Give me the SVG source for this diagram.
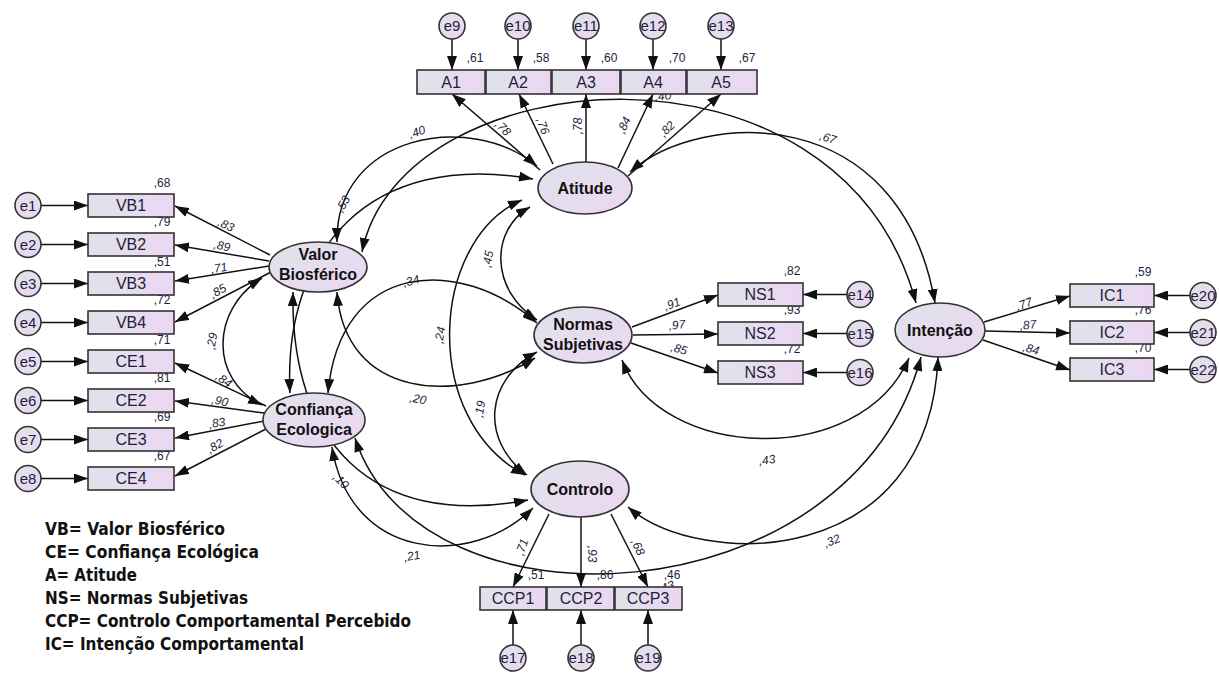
<svg xmlns="http://www.w3.org/2000/svg" width="1219" height="674" viewBox="0 0 1219 674">
<defs>
<linearGradient id="gr" x1="0" y1="0" x2="1" y2="0"><stop offset="0" stop-color="#dfe3ea"/><stop offset="1" stop-color="#ecd6f2"/></linearGradient>
<linearGradient id="ge" x1="0" y1="0" x2="1" y2="1"><stop offset="0" stop-color="#dfe3ea"/><stop offset="1" stop-color="#ecd6f2"/></linearGradient>
<marker id="ah" viewBox="0 0 14 10" refX="14" refY="5" markerWidth="14" markerHeight="10" markerUnits="userSpaceOnUse" orient="auto-start-reverse"><path d="M0,0 L14,5 L0,10 z" fill="#111"/></marker>
</defs>
<style>
.box{fill:url(#gr);stroke:#333;stroke-width:1.6}
.lat{fill:url(#ge);stroke:#333;stroke-width:1.6}
.err{fill:url(#ge);stroke:#333;stroke-width:1.6}
.ln{stroke:#111;stroke-width:1.5;fill:none;marker-end:url(#ah)}
.cov{stroke:#111;stroke-width:1.5;fill:none;marker-start:url(#ah);marker-end:url(#ah)}
text{font-family:"Liberation Sans",Arial,sans-serif}
.ti{font-size:16px;fill:#1e1e3c;text-anchor:middle}
.tl{font-size:16px;font-weight:bold;fill:#111;text-anchor:middle}
.te{font-size:15px;fill:#1e1e3c;text-anchor:middle}
.n{font-size:12px;fill:#1e1e3c;text-anchor:middle;dominant-baseline:central}
.i{font-style:italic}
.lg{font-family:"DejaVu Sans Condensed","DejaVu Sans",sans-serif;font-weight:bold;font-size:17px;fill:#111}
</style>
<rect width="1219" height="674" fill="#fff"/>

<g id="connectors">
<!-- error arrows -->
<line class="ln" x1="41" y1="205.5" x2="88" y2="205.5"/>
<line class="ln" x1="41" y1="244.5" x2="88" y2="244.5"/>
<line class="ln" x1="41" y1="283.5" x2="88" y2="283.5"/>
<line class="ln" x1="41" y1="322.5" x2="88" y2="322.5"/>
<line class="ln" x1="41" y1="361.5" x2="88" y2="361.5"/>
<line class="ln" x1="41" y1="400.5" x2="88" y2="400.5"/>
<line class="ln" x1="41" y1="439.5" x2="88" y2="439.5"/>
<line class="ln" x1="41" y1="478.5" x2="88" y2="478.5"/>
<line class="ln" x1="452" y1="39" x2="452" y2="70"/>
<line class="ln" x1="518" y1="39" x2="518" y2="70"/>
<line class="ln" x1="586" y1="39" x2="586" y2="70"/>
<line class="ln" x1="653" y1="39" x2="653" y2="70"/>
<line class="ln" x1="721" y1="39" x2="721" y2="70"/>
<line class="ln" x1="847" y1="294.5" x2="803" y2="294.5"/>
<line class="ln" x1="847" y1="333.5" x2="803" y2="333.5"/>
<line class="ln" x1="847" y1="372.5" x2="803" y2="372.5"/>
<line class="ln" x1="1190" y1="295.5" x2="1154" y2="295.5"/>
<line class="ln" x1="1190" y1="332.5" x2="1154" y2="332.5"/>
<line class="ln" x1="1190" y1="369.5" x2="1154" y2="369.5"/>
<line class="ln" x1="513" y1="645" x2="513" y2="610"/>
<line class="ln" x1="581" y1="645" x2="581" y2="610"/>
<line class="ln" x1="648" y1="645" x2="648" y2="610"/>
<!-- loadings -->
<line class="ln" x1="270" y1="255" x2="175" y2="206"/>
<line class="ln" x1="269" y1="261" x2="175" y2="245"/>
<line class="ln" x1="269" y1="266" x2="175" y2="281"/>
<line class="ln" x1="271" y1="272" x2="175" y2="322"/>
<line class="ln" x1="266" y1="406" x2="175" y2="363"/>
<line class="ln" x1="264" y1="413" x2="175" y2="401"/>
<line class="ln" x1="264" y1="421" x2="175" y2="438"/>
<line class="ln" x1="266" y1="429" x2="175" y2="476"/>
<line class="ln" x1="540" y1="170" x2="452" y2="94"/>
<line class="ln" x1="553" y1="164" x2="519" y2="94"/>
<line class="ln" x1="586" y1="162" x2="586" y2="94"/>
<line class="ln" x1="618" y1="168" x2="653" y2="94"/>
<line class="ln" x1="628" y1="176" x2="721" y2="94"/>
<line class="ln" x1="632" y1="327" x2="718" y2="295"/>
<line class="ln" x1="633" y1="335" x2="718" y2="334"/>
<line class="ln" x1="631" y1="343" x2="718" y2="373"/>
<line class="ln" x1="984" y1="322" x2="1070" y2="296"/>
<line class="ln" x1="985" y1="331" x2="1070" y2="333"/>
<line class="ln" x1="983" y1="340" x2="1070" y2="370"/>
<line class="ln" x1="549" y1="514" x2="513" y2="587"/>
<line class="ln" x1="581" y1="517" x2="581" y2="587"/>
<line class="ln" x1="611" y1="514" x2="648" y2="587"/>
<!-- covariances -->
<path class="cov" d="M262,278 C210,310 210,380 262,405"/>
<path class="cov" d="M337,242 C335,135 470,110 537,166"/>
<path class="cov" d="M290,393 C283,250 370,150 533,179"/>
<path class="cov" d="M337,292 C345,400 460,405 535,358"/>
<path class="cov" d="M293,292 C290,440 370,530 528,500"/>
<path class="cov" d="M362,252 C400,60 840,20 916,303"/>
<path class="cov" d="M328,393 C340,260 460,255 537,323"/>
<path class="cov" d="M332,447 C350,560 470,570 533,508"/>
<path class="cov" d="M355,438 C420,640 850,620 921,357"/>
<path class="cov" d="M530,207 C490,230 490,290 537,320"/>
<path class="cov" d="M522,200 C430,240 420,420 525,475"/>
<path class="cov" d="M630,172 C700,110 900,100 935,303"/>
<path class="cov" d="M537,352 C485,380 480,440 527,475"/>
<path class="cov" d="M622,360 C660,460 860,470 909,358"/>
<path class="cov" d="M628,507 C700,570 930,570 938,357"/>
</g>

<g id="labels">
<text class="n i" transform="translate(226,225) rotate(25)">,83</text>
<text class="n i" transform="translate(222,246) rotate(12)">,89</text>
<text class="n i" transform="translate(219,268) rotate(-10)">,71</text>
<text class="n i" transform="translate(218,291) rotate(-30)">,85</text>
<text class="n i" transform="translate(224,380) rotate(35)">,84</text>
<text class="n i" transform="translate(220,401) rotate(12)">,90</text>
<text class="n i" transform="translate(217,423) rotate(-10)">,83</text>
<text class="n i" transform="translate(215,446) rotate(-30)">,82</text>
<text class="n i" transform="translate(503,128) rotate(45)">,78</text>
<text class="n i" transform="translate(543,126) rotate(70)">,76</text>
<text class="n i" transform="translate(578,126) rotate(-90)">,78</text>
<text class="n i" transform="translate(624,125) rotate(-65)">,84</text>
<text class="n i" transform="translate(667,129) rotate(-45)">,82</text>
<text class="n i" transform="translate(672,304) rotate(-20)">,91</text>
<text class="n i" transform="translate(677,325) rotate(-5)">,97</text>
<text class="n i" transform="translate(679,349) rotate(15)">,85</text>
<text class="n i" transform="translate(1024,304) rotate(-20)">,77</text>
<text class="n i" transform="translate(1028,325) rotate(-5)">,87</text>
<text class="n i" transform="translate(1031,349) rotate(15)">,84</text>
<text class="n i" transform="translate(522,547) rotate(-70)">,71</text>
<text class="n i" transform="translate(592,554) rotate(90)">,93</text>
<text class="n i" transform="translate(638,547) rotate(65)">,68</text>
<text class="n i" transform="translate(417,132) rotate(-20)">,40</text>
<text class="n i" transform="translate(343,204) rotate(-60)">,53</text>
<text class="n i" transform="translate(212,341) rotate(-80)">,29</text>
<text class="n i" transform="translate(411,281) rotate(-15)">,34</text>
<text class="n i" transform="translate(418,399) rotate(10)">,20</text>
<text class="n i" transform="translate(341,481) rotate(45)">,10</text>
<text class="n i" transform="translate(412,556) rotate(-10)">,21</text>
<text class="n i" transform="translate(488,259) rotate(-80)">,45</text>
<text class="n i" transform="translate(440,335) rotate(-80)">,24</text>
<text class="n i" transform="translate(480,409) rotate(-80)">,19</text>
<text class="n i" transform="translate(828,138) rotate(18)">,67</text>
<text class="n i" transform="translate(767,460) rotate(-8)">,43</text>
<text class="n i" transform="translate(832,541) rotate(-22)">,32</text>
<text class="n i" transform="translate(663,96) rotate(-5)">,40</text>
<text class="n i" transform="translate(666,587) rotate(-20)">,43</text>
<text class="n" x="475" y="58">,61</text>
<text class="n" x="541" y="58">,58</text>
<text class="n" x="609" y="58">,60</text>
<text class="n" x="677" y="58">,70</text>
<text class="n" x="747" y="58">,67</text>
<text class="n" x="162" y="183">,68</text>
<text class="n" x="162" y="222">,79</text>
<text class="n" x="162" y="262">,51</text>
<text class="n" x="162" y="300">,72</text>
<text class="n" x="162" y="340">,71</text>
<text class="n" x="162" y="378">,81</text>
<text class="n" x="162" y="417">,69</text>
<text class="n" x="162" y="456">,67</text>
<text class="n" x="792" y="271">,82</text>
<text class="n" x="792" y="310">,93</text>
<text class="n" x="792" y="349">,72</text>
<text class="n" x="1143" y="272">,59</text>
<text class="n" x="1143" y="310">,76</text>
<text class="n" x="1143" y="348">,70</text>
<text class="n" x="536" y="575">,51</text>
<text class="n" x="605" y="575">,86</text>
<text class="n" x="672" y="575">,46</text>
</g>

<g id="VB"><ellipse class="lat" cx="318" cy="267" rx="49" ry="25"/><text class="tl" x="318" y="260">Valor</text><text class="tl" x="318" y="280">Biosférico</text></g>
<g id="CE"><ellipse class="lat" cx="314" cy="420" rx="51" ry="27"/><text class="tl" x="314" y="415">Confiança</text><text class="tl" x="314" y="435">Ecologica</text></g>
<g id="Atitude"><ellipse class="lat" cx="585" cy="188" rx="47" ry="26"/><text class="tl" x="585" y="194">Atitude</text></g>
<g id="NS"><ellipse class="lat" cx="583" cy="335" rx="49" ry="28"/><text class="tl" x="583" y="330">Normas</text><text class="tl" x="583" y="350">Subjetivas</text></g>
<g id="Controlo"><ellipse class="lat" cx="580" cy="489" rx="49" ry="28"/><text class="tl" x="580" y="495">Controlo</text></g>
<g id="Intencao"><ellipse class="lat" cx="940" cy="330" rx="45" ry="27"/><text class="tl" x="940" y="336">Intenção</text></g>

<g id="VB1"><rect class="box" x="88" y="194" width="86" height="23"/><text class="ti" x="131" y="211">VB1</text></g>
<g id="VB2"><rect class="box" x="88" y="233" width="86" height="23"/><text class="ti" x="131" y="250">VB2</text></g>
<g id="VB3"><rect class="box" x="88" y="272" width="86" height="23"/><text class="ti" x="131" y="289">VB3</text></g>
<g id="VB4"><rect class="box" x="88" y="311" width="86" height="23"/><text class="ti" x="131" y="328">VB4</text></g>
<g id="CE1"><rect class="box" x="88" y="350" width="86" height="23"/><text class="ti" x="131" y="367">CE1</text></g>
<g id="CE2"><rect class="box" x="88" y="389" width="86" height="23"/><text class="ti" x="131" y="406">CE2</text></g>
<g id="CE3"><rect class="box" x="88" y="428" width="86" height="23"/><text class="ti" x="131" y="445">CE3</text></g>
<g id="CE4"><rect class="box" x="88" y="467" width="86" height="23"/><text class="ti" x="131" y="484">CE4</text></g>
<g id="A1"><rect class="box" x="417" y="70" width="68" height="24"/><text class="ti" x="451" y="88">A1</text></g>
<g id="A2"><rect class="box" x="486" y="70" width="65" height="24"/><text class="ti" x="518" y="88">A2</text></g>
<g id="A3"><rect class="box" x="552" y="70" width="68" height="24"/><text class="ti" x="586" y="88">A3</text></g>
<g id="A4"><rect class="box" x="621" y="70" width="65" height="24"/><text class="ti" x="653" y="88">A4</text></g>
<g id="A5"><rect class="box" x="687" y="70" width="70" height="24"/><text class="ti" x="721" y="88">A5</text></g>
<g id="NS1"><rect class="box" x="718" y="283" width="85" height="23"/><text class="ti" x="760" y="300">NS1</text></g>
<g id="NS2"><rect class="box" x="718" y="322" width="85" height="23"/><text class="ti" x="760" y="339">NS2</text></g>
<g id="NS3"><rect class="box" x="718" y="361" width="85" height="23"/><text class="ti" x="760" y="378">NS3</text></g>
<g id="IC1"><rect class="box" x="1070" y="284" width="84" height="23"/><text class="ti" x="1112" y="301">IC1</text></g>
<g id="IC2"><rect class="box" x="1070" y="321" width="84" height="23"/><text class="ti" x="1112" y="338">IC2</text></g>
<g id="IC3"><rect class="box" x="1070" y="358" width="84" height="23"/><text class="ti" x="1112" y="375">IC3</text></g>
<g id="CCP1"><rect class="box" x="480" y="587" width="66" height="23"/><text class="ti" x="513" y="604">CCP1</text></g>
<g id="CCP2"><rect class="box" x="547" y="587" width="67" height="23"/><text class="ti" x="581" y="604">CCP2</text></g>
<g id="CCP3"><rect class="box" x="615" y="587" width="67" height="23"/><text class="ti" x="648" y="604">CCP3</text></g>

<g id="err-e1"><circle class="err" cx="28" cy="205.5" r="13"/><text class="te" x="28" y="211">e1</text></g>
<g id="err-e2"><circle class="err" cx="28" cy="244.5" r="13"/><text class="te" x="28" y="250">e2</text></g>
<g id="err-e3"><circle class="err" cx="28" cy="283.5" r="13"/><text class="te" x="28" y="289">e3</text></g>
<g id="err-e4"><circle class="err" cx="28" cy="322.5" r="13"/><text class="te" x="28" y="328">e4</text></g>
<g id="err-e5"><circle class="err" cx="28" cy="361.5" r="13"/><text class="te" x="28" y="367">e5</text></g>
<g id="err-e6"><circle class="err" cx="28" cy="400.5" r="13"/><text class="te" x="28" y="406">e6</text></g>
<g id="err-e7"><circle class="err" cx="28" cy="439.5" r="13"/><text class="te" x="28" y="445">e7</text></g>
<g id="err-e8"><circle class="err" cx="28" cy="478.5" r="13"/><text class="te" x="28" y="484">e8</text></g>
<g id="err-e9"><circle class="err" cx="452" cy="26" r="13"/><text class="te" x="452" y="31">e9</text></g>
<g id="err-e10"><circle class="err" cx="518" cy="26" r="13"/><text class="te" x="518" y="31">e10</text></g>
<g id="err-e11"><circle class="err" cx="586" cy="26" r="13"/><text class="te" x="586" y="31">e11</text></g>
<g id="err-e12"><circle class="err" cx="653" cy="26" r="13"/><text class="te" x="653" y="31">e12</text></g>
<g id="err-e13"><circle class="err" cx="721" cy="26" r="13"/><text class="te" x="721" y="31">e13</text></g>
<g id="err-e14"><circle class="err" cx="860" cy="294.5" r="13"/><text class="te" x="860" y="300">e14</text></g>
<g id="err-e15"><circle class="err" cx="860" cy="333.5" r="13"/><text class="te" x="860" y="339">e15</text></g>
<g id="err-e16"><circle class="err" cx="860" cy="372.5" r="13"/><text class="te" x="860" y="378">e16</text></g>
<g id="err-e20"><circle class="err" cx="1203" cy="295.5" r="13"/><text class="te" x="1203" y="301">e20</text></g>
<g id="err-e21"><circle class="err" cx="1203" cy="332.5" r="13"/><text class="te" x="1203" y="338">e21</text></g>
<g id="err-e22"><circle class="err" cx="1203" cy="369.5" r="13"/><text class="te" x="1203" y="375">e22</text></g>
<g id="err-e17"><circle class="err" cx="513" cy="658" r="13"/><text class="te" x="513" y="663">e17</text></g>
<g id="err-e18"><circle class="err" cx="581" cy="658" r="13"/><text class="te" x="581" y="663">e18</text></g>
<g id="err-e19"><circle class="err" cx="648" cy="658" r="13"/><text class="te" x="648" y="663">e19</text></g>

<g id="legend">
<text class="lg" x="45" y="535" textLength="180" lengthAdjust="spacingAndGlyphs">VB= Valor Biosférico</text>
<text class="lg" x="45" y="558" textLength="214" lengthAdjust="spacingAndGlyphs">CE= Confiança Ecológica</text>
<text class="lg" x="45" y="581" textLength="92" lengthAdjust="spacingAndGlyphs">A= Atitude</text>
<text class="lg" x="45" y="604" textLength="203" lengthAdjust="spacingAndGlyphs">NS= Normas Subjetivas</text>
<text class="lg" x="45" y="627" textLength="366" lengthAdjust="spacingAndGlyphs">CCP= Controlo Comportamental Percebido</text>
<text class="lg" x="45" y="650" textLength="259" lengthAdjust="spacingAndGlyphs">IC= Intenção Comportamental</text>
</g>
</svg>
